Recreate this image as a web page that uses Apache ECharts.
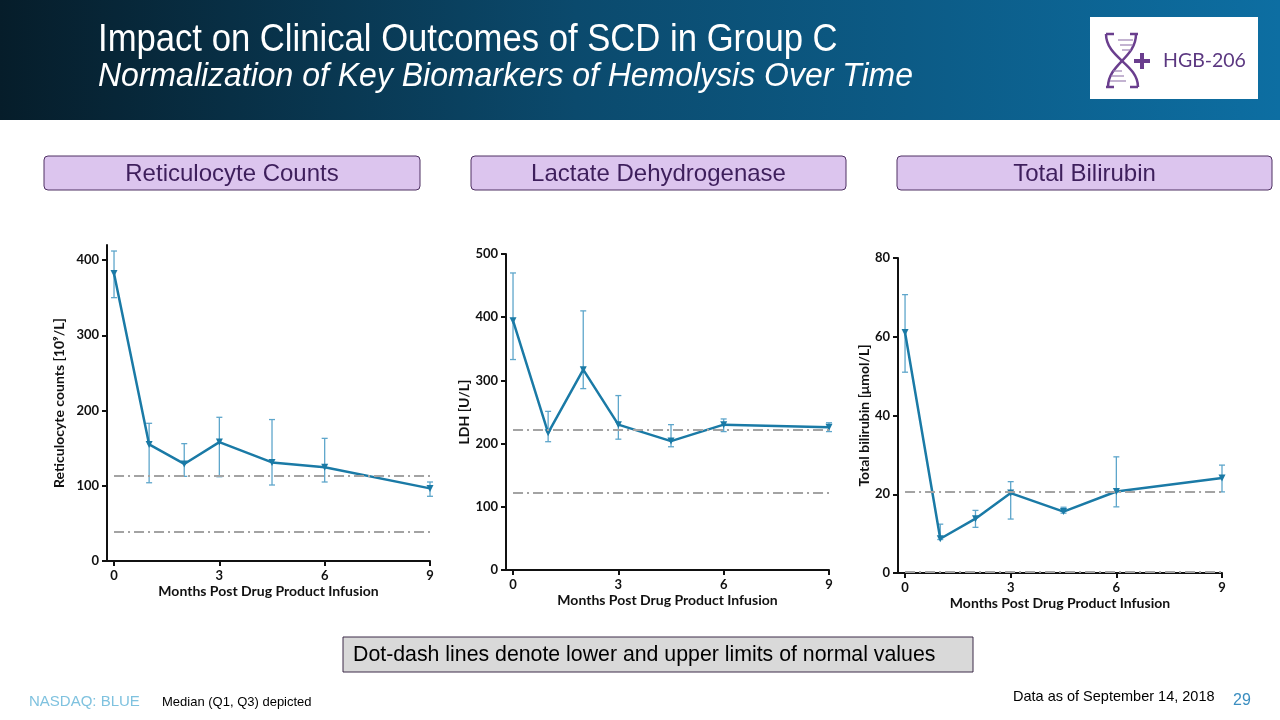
<!DOCTYPE html>
<html>
<head>
<meta charset="utf-8">
<script src="https://cdn.jsdelivr.net/npm/echarts@6/dist/echarts.min.js"></script>
<style>
html,body{margin:0;padding:0;background:#fff;}
#chart{width:1280px;height:720px;}
</style>
</head>
<body>
<div id="chart"></div>
<script>
// ---------- data ----------
const months = [0, 1, 2, 3, 4.5, 6, 9];
const xTicks = [0, 3, 6, 9];

const retMedian = [382, 155, 129, 158, 131, 124.5, 96.5];
const retQ1     = [350, 104, 112.5, 112, 101, 105, 86];
const retQ3     = [412, 183, 156, 191, 188, 163, 105];
const retLimits = [39, 113.4];
const retTicks  = [0, 100, 200, 300, 400];

const ldhMedian = [394.5, 217, 317, 230, 204, 230, 226];
const ldhQ1     = [333, 203, 287, 207, 195, 219, 219];
const ldhQ3     = [470, 251, 410, 276, 230, 239, 233];
const ldhLimits = [122, 222];
const ldhTicks  = [0, 100, 200, 300, 400, 500];

const bilMedian = [61.1, 8.7, 13.8, 20.3, 15.6, 20.7, 24.1];
const bilQ1     = [51, 8.5, 11.6, 13.7, 15.2, 16.8, 20.6];
const bilQ3     = [70.7, 12.4, 15.9, 23.2, 16.7, 29.5, 27.4];
const bilLimits = [0.2, 20.6];
const bilTicks  = [0, 20, 40, 60, 80];

const panelTitles = ['Reticulocyte Counts', 'Lactate Dehydrogenase', 'Total Bilirubin'];
const yNames = ['Reticulocyte counts [10\u2079/L]', 'LDH [U/L]', 'Total bilirubin [\u03bcmol/L]'];
const xName = 'Months Post Drug Product Infusion';

// ---------- layout ----------
const grids = [
  {left: 107, top: 245, width: 323, height: 316, ymax: 420, nameGap: 41},
  {left: 506, top: 254, width: 323, height: 316, ymax: 500, nameGap: 33},
  {left: 898, top: 258, width: 324, height: 315, ymax: 80,  nameGap: 23}
];
const sets = [
  {med: retMedian, q1: retQ1, q3: retQ3, lim: retLimits, ticks: retTicks},
  {med: ldhMedian, q1: ldhQ1, q3: ldhQ3, lim: ldhLimits, ticks: ldhTicks},
  {med: bilMedian, q1: bilQ1, q3: bilQ3, lim: bilLimits, ticks: bilTicks}
];

const LINE = '#1a7aa6';
const ERR = '#5ea6cb';
const FONT = 'Lato, "Open Sans", sans-serif';

const grid = [], xAxis = [], yAxis = [], series = [];
grids.forEach((g, i) => {
  grid.push({left: g.left, top: g.top, width: g.width, height: g.height});
  xAxis.push({
    type: 'value', gridIndex: i, min: -0.2, max: 9,
    name: xName, nameLocation: 'middle', nameGap: 23,
    nameTextStyle: {fontFamily: FONT, fontWeight: 'bold', fontSize: 14, color: '#111'},
    axisLine: {onZero: false, lineStyle: {color: '#111', width: 2}},
    axisTick: {length: 5, lineStyle: {color: '#111', width: 2}, customValues: xTicks},
    axisLabel: {customValues: xTicks, fontFamily: FONT, fontWeight: 'bold', fontSize: 13, color: '#111', margin: 8},
    splitLine: {show: false}
  });
  yAxis.push({
    type: 'value', gridIndex: i, min: 0, max: g.ymax,
    name: yNames[i], nameLocation: 'middle', nameGap: g.nameGap,
    nameTextStyle: {fontFamily: FONT, fontWeight: 'bold', fontSize: 14, color: '#111'},
    axisLine: {show: true, onZero: false, lineStyle: {color: '#111', width: 2}},
    axisTick: {show: true, length: 5, lineStyle: {color: '#111', width: 2}, customValues: sets[i].ticks},
    axisLabel: {customValues: sets[i].ticks, fontFamily: FONT, fontWeight: 'bold', fontSize: 13, color: '#111', margin: 8},
    splitLine: {show: false}
  });
  const s = sets[i];
  // reference limit lines
  series.push({
    type: 'line', xAxisIndex: i, yAxisIndex: i, data: [], z: 1, silent: true,
    markLine: {
      symbol: 'none', silent: true, label: {show: false},
      lineStyle: {color: '#a3a3a3', width: 2, type: [10, 4, 2, 4]},
      data: s.lim.map(v => [{coord: [xTicks[0], v]}, {coord: [xTicks[xTicks.length - 1], v]}])
    }
  });
  // error bars (Q1..Q3)
  series.push({
    type: 'custom', xAxisIndex: i, yAxisIndex: i, z: 2, silent: true,
    data: months.map((m, k) => [m, s.q1[k], s.q3[k]]),
    encode: {x: 0, y: [1, 2]},
    renderItem: function (params, api) {
      const x = api.value(0);
      const lo = api.coord([x, api.value(1)]);
      const hi = api.coord([x, api.value(2)]);
      const w = 3;
      const st = {stroke: ERR, lineWidth: 1.3};
      return {type: 'group', children: [
        {type: 'line', shape: {x1: lo[0], y1: lo[1], x2: hi[0], y2: hi[1]}, style: st},
        {type: 'line', shape: {x1: lo[0] - w, y1: lo[1], x2: lo[0] + w, y2: lo[1]}, style: st},
        {type: 'line', shape: {x1: hi[0] - w, y1: hi[1], x2: hi[0] + w, y2: hi[1]}, style: st}
      ]};
    }
  });
  // median line
  series.push({
    type: 'line', xAxisIndex: i, yAxisIndex: i, z: 3,
    data: months.map((m, k) => [m, s.med[k]]),
    symbol: 'triangle', symbolRotate: 180, symbolSize: 7,
    lineStyle: {color: LINE, width: 2.5},
    itemStyle: {color: LINE}
  });
});

// ---------- graphics (slide decoration) ----------
const PURPLE = '#6a3e8e';
const graphic = [
  {type: 'rect', left: 0, top: 0, shape: {width: 1280, height: 120}, z: -10,
    style: {fill: new echarts.graphic.LinearGradient(0, 0, 1, 0, [
      {offset: 0, color: '#061d2a'}, {offset: 0.45, color: '#0b4a6d'}, {offset: 1, color: '#0d6ea2'}])}},
  {type: 'text', x: 98, y: 41, scaleX: 0.912, style: {text: 'Impact on Clinical Outcomes of SCD in Group C', fill: '#fff',
    font: '38px "Liberation Sans", Arial, sans-serif', textVerticalAlign: 'middle'}},
  {type: 'text', x: 98, y: 77, scaleX: 0.94, style: {text: 'Normalization of Key Biomarkers of Hemolysis Over Time', fill: '#fff',
    font: 'italic 34px "Liberation Sans", Arial, sans-serif', textVerticalAlign: 'middle'}},
  // logo
  {type: 'rect', shape: {x: 1090, y: 17, width: 168, height: 82}, style: {fill: '#fff'}},
  {type: 'bezierCurve', shape: {x1: 1106, y1: 34, cpx1: 1106, cpy1: 58, cpx2: 1138, cpy2: 64, x2: 1138, y2: 87, percent: 1},
    style: {stroke: PURPLE, lineWidth: 2.5, fill: null}},
  {type: 'bezierCurve', shape: {x1: 1136, y1: 34, cpx1: 1136, cpy1: 58, cpx2: 1108, cpy2: 64, x2: 1108, y2: 87, percent: 1},
    style: {stroke: PURPLE, lineWidth: 2.5, fill: null}},
  {type: 'line', shape: {x1: 1106, y1: 34, x2: 1114, y2: 34}, style: {stroke: PURPLE, lineWidth: 2.5}},
  {type: 'line', shape: {x1: 1130, y1: 34, x2: 1138, y2: 34}, style: {stroke: PURPLE, lineWidth: 2.5}},
  {type: 'line', shape: {x1: 1106, y1: 87, x2: 1114, y2: 87}, style: {stroke: PURPLE, lineWidth: 2.5}},
  {type: 'line', shape: {x1: 1130, y1: 87, x2: 1138, y2: 87}, style: {stroke: PURPLE, lineWidth: 2.5}},
  {type: 'line', shape: {x1: 1118, y1: 40, x2: 1133, y2: 40}, style: {stroke: '#9b80b3', lineWidth: 1.2}},
  {type: 'line', shape: {x1: 1120, y1: 45, x2: 1133, y2: 45}, style: {stroke: '#9b80b3', lineWidth: 1.2}},
  {type: 'line', shape: {x1: 1122, y1: 50, x2: 1131, y2: 50}, style: {stroke: '#9b80b3', lineWidth: 1.2}},
  {type: 'line', shape: {x1: 1113, y1: 71, x2: 1122, y2: 71}, style: {stroke: '#9b80b3', lineWidth: 1.2}},
  {type: 'line', shape: {x1: 1111, y1: 76, x2: 1124, y2: 76}, style: {stroke: '#9b80b3', lineWidth: 1.2}},
  {type: 'line', shape: {x1: 1110, y1: 81, x2: 1126, y2: 81}, style: {stroke: '#9b80b3', lineWidth: 1.2}},
  {type: 'rect', shape: {x: 1134, y: 59, width: 16, height: 4}, style: {fill: PURPLE}},
  {type: 'rect', shape: {x: 1140, y: 53, width: 4, height: 16}, style: {fill: PURPLE}},
  {type: 'text', x: 1163, y: 61, style: {text: 'HGB-206', fill: '#5b3780',
    font: '19.5px Lato, "Open Sans", sans-serif', textVerticalAlign: 'middle'}},
  // note box
  {type: 'rect', shape: {x: 343, y: 637, width: 630, height: 35}, style: {fill: '#d9d9d9', stroke: '#3c2a48', lineWidth: 1}},
  {type: 'text', x: 353, y: 655, style: {text: 'Dot-dash lines denote lower and upper limits of normal values', fill: '#000',
    font: '21.3px "Liberation Sans", Arial, sans-serif', textVerticalAlign: 'middle'}},
  // footer
  {type: 'text', x: 29, y: 702, style: {text: 'NASDAQ: BLUE', fill: '#7fc2df', font: '15px "Liberation Sans", Arial, sans-serif', textVerticalAlign: 'middle'}},
  {type: 'text', x: 162, y: 702, style: {text: 'Median (Q1, Q3) depicted', fill: '#000', font: '13px "Liberation Sans", Arial, sans-serif', textVerticalAlign: 'middle'}},
  {type: 'text', x: 1013, y: 697, style: {text: 'Data as of September 14, 2018', fill: '#000', font: '14.5px "Liberation Sans", Arial, sans-serif', textVerticalAlign: 'middle'}},
  {type: 'text', x: 1233, y: 701, style: {text: '29', fill: '#3b8ec0', font: '16px "Liberation Sans", Arial, sans-serif', textVerticalAlign: 'middle'}}
];
const boxes = [{x: 44, w: 376}, {x: 471, w: 375}, {x: 897, w: 375}];
boxes.forEach((b, i) => {
  graphic.push({type: 'rect', shape: {x: b.x, y: 156, width: b.w, height: 34, r: 4},
    style: {fill: '#dcc5ee', stroke: '#4f3163', lineWidth: 1}});
  graphic.push({type: 'text', x: b.x + b.w / 2, y: 174, style: {text: panelTitles[i], fill: '#3e1f5c',
    font: '24px "Liberation Sans", Arial, sans-serif', textAlign: 'center', textVerticalAlign: 'middle'}});
});

const chart = echarts.init(document.getElementById('chart'));
chart.setOption({
  animation: false,
  backgroundColor: '#fff',
  grid, xAxis, yAxis, series, graphic
});
</script>
</body>
</html>
